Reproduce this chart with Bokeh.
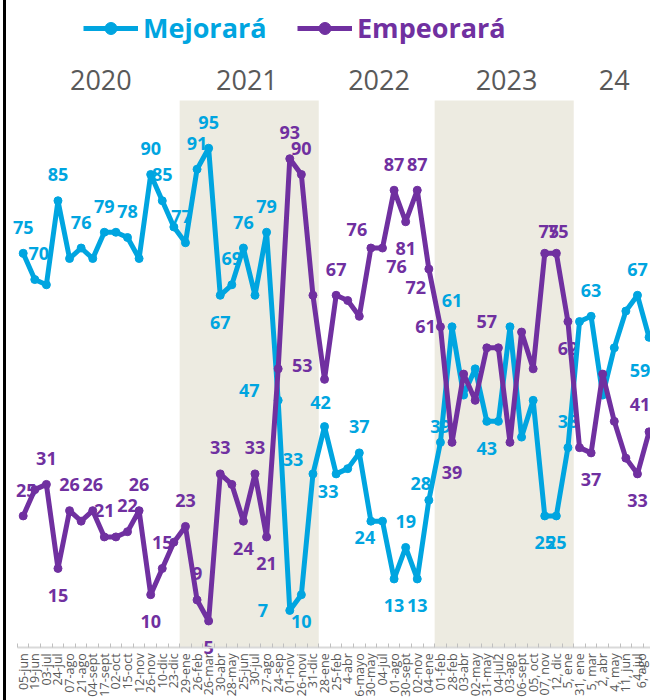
import math
from bokeh.plotting import figure
from bokeh.models import (ColumnDataSource, Range1d, FixedTicker, BoxAnnotation,
                          Legend, LegendItem, Label)
from bokeh.core.properties import value
from bokeh.embed import file_html
from bokeh.resources import INLINE

# ---------------- data ----------------
dates = ["05-jun", "19-jun", "03-jul", "24-jul", "07-ago", "21-ago", "04-sept", "17-sept",
         "02-oct", "15-oct", "12-nov", "26-nov", "10-dic", "23-dic", "29-ene", "26-feb",
         "26-mar", "30-abr", "28-may", "25-jun", "30-jul", "27-ago", "24-sep", "01-nov",
         "26-novi", "31-dic", "28-ene", "25-feb", "4-abr", "6-mayo", "30-may", "04-jul",
         "01-ago", "30-sept", "02-nov", "04-ene", "01-feb", "28-feb", "03-abr", "02-may",
         "31-may", "04-jul2", "03-ago", "06-sept", "05, oct", "07, nov", "12, dic", "5, ene",
         "31, ene", "5, mar", "2, abr", "4, may", "11, jun", "4, jul", "6, ago"]

mejorara = [75, 70, 69, 85, 74, 76, 74, 79, 79, 78, 74, 90, 85, 80, 77, 91, 95, 67, 69, 76,
            67, 79, 47, 7, 10, 33, 42, 33, 34, 37, 24, 24, 13, 19, 13, 28, 39, 61, 48, 53,
            43, 43, 61, 40, 47, 25, 25, 38, 62, 63, 48, 57, 64, 67, 59]

empeorara = [25, 30, 31, 15, 26, 24, 26, 21, 21, 22, 26, 10, 15, 20, 23, 9, 5, 33, 31, 24,
             33, 21, 53, 93, 90, 67, 51, 67, 66, 63, 76, 76, 87, 81, 87, 72, 61, 39, 52, 47,
             57, 57, 39, 60, 53, 75, 75, 62, 38, 37, 52, 43, 36, 33, 41]

years = ["2020", "2021", "2022", "2023", "24"]
year_x = [6.7, 19.3, 30.7, 41.7, 51.0]
shaded_periods = [(13.5, 25.5), (35.5, 47.5)]

# ---------------- style ----------------
BLUE = "#00A5E0"
PURPLE = "#7030A0"
SHADE = "#EDEBE1"
GRAY_TXT = "#595959"

# label offsets (screen px) for the labelled points
A, B = (0, -26), (0, 27)
blue_label_off = {0: A, 1: (4, -26), 3: A, 5: A, 7: A, 9: A, 11: A, 12: A, 14: (-4, -26), 15: A,
                  16: A, 17: B, 18: A, 19: A, 21: A, 22: (-29, -10), 23: (-27, 0), 24: B,
                  25: (-20, -14), 26: (-4, -24), 27: (-8, 18), 29: A, 30: (-6, 16), 32: B,
                  33: A, 34: B, 35: (-8, -17), 36: (0, -16), 37: A, 40: B, 45: B, 46: B,
                  47: A, 49: A, 53: A, 54: (-9, 33)}
purple_label_off = {0: (3, -25), 2: A, 3: B, 4: A, 6: A, 7: A, 9: A, 10: A, 11: B, 12: A,
                    14: A, 15: A, 16: B, 17: A, 19: B, 20: A, 21: B, 22: (24, -3), 23: A,
                    24: A, 27: A, 30: (-14, -19), 31: (14, 18), 32: A, 33: B, 34: A,
                    35: (-13, 18), 36: (-15, 0), 37: (0, 30), 40: A, 45: (4, -22),
                    46: (2, -22), 47: B, 49: B, 53: B, 54: (-9, -27)}

W, H = 647, 700
n = len(dates)
idx = list(range(n))

p = figure(width=W, height=H,
           x_range=Range1d(-1.441, 54.383), y_range=Range1d(-10.14, 123.12),
           output_backend="svg", toolbar_location=None, min_border=0,
           y_axis_location=None)
p.styles = {"margin-left": "3px", "border-left": "3px solid black"}
p.outline_line_color = None
p.grid.visible = False
p.background_fill_color = "white"
p.border_fill_color = "white"

for a, b in shaded_periods:
    p.add_layout(BoxAnnotation(left=a, right=b, bottom=0, top=104.08, fill_color=SHADE,
                               fill_alpha=1, line_color=None, level="underlay"))

ax = p.xaxis[0]
ax.ticker = FixedTicker(ticks=idx, minor_ticks=[i - 0.5 for i in range(n + 1)])
ax.major_label_overrides = {i: d for i, d in enumerate(dates)}
ax.major_label_orientation = math.pi / 2
ax.fixed_location = 0
ax.bounds = (-0.5, n - 0.5)
ax.axis_line_color = "#D9D9D9"
ax.axis_line_width = 2
ax.major_tick_in = 0
ax.major_tick_out = 0
ax.minor_tick_in = 4
ax.minor_tick_out = 0
ax.minor_tick_line_color = "#BFBFBF"
ax.minor_tick_line_width = 1
ax.major_label_standoff = 6
ax.major_label_text_color = GRAY_TXT
ax.major_label_text_font = "Open Sans"
ax.major_label_text_font_size = "12.5px"


def label_source(vals, offs):
    ks = sorted(offs)
    return ColumnDataSource(dict(x=ks, y=[vals[k] for k in ks], t=[str(vals[k]) for k in ks],
                                 xo=[offs[k][0] for k in ks], yo=[offs[k][1] for k in ks]))


for vals, offs, col in ((mejorara, blue_label_off, BLUE), (empeorara, purple_label_off, PURPLE)):
    p.text(x="x", y="y", text="t", x_offset="xo", y_offset="yo", source=label_source(vals, offs),
           text_font=value("Open Sans"), text_font_style="bold", text_font_size="18px",
           text_color=col, text_align="center", text_baseline="middle")

src = ColumnDataSource(dict(x=idx, m=mejorara, e=empeorara))
lb = p.line("x", "m", source=src, line_width=5, line_color=BLUE, line_join="round")
sb = p.scatter("x", "m", source=src, size=8, marker="circle", fill_color=BLUE, line_color=BLUE)
lp = p.line("x", "e", source=src, line_width=5, line_color=PURPLE, line_join="round")
sp = p.scatter("x", "e", source=src, size=8, marker="circle", fill_color=PURPLE, line_color=PURPLE)

for yr, xx in zip(years, year_x):
    p.add_layout(Label(x=xx, y=107.9, text=yr, text_align="center", text_baseline="middle",
                       text_font="Open Sans", text_font_size="27px", text_color=GRAY_TXT))

for name, rends, col, loc in (("Mejorará", [lb, sb], BLUE, (77, 654)),
                              ("Empeorará", [lp, sp], PURPLE, (291, 654))):
    leg = Legend(items=[LegendItem(label=name, renderers=rends)], location=loc,
                 orientation="horizontal", glyph_width=55, glyph_height=30, label_height=30,
                 label_standoff=5, padding=0, margin=0, border_line_color=None,
                 background_fill_alpha=0, label_text_font="Open Sans",
                 label_text_font_style="bold", label_text_font_size="27px",
                 label_text_color=col)
    p.add_layout(leg)

open("out.html", "w").write(file_html(p, INLINE))
